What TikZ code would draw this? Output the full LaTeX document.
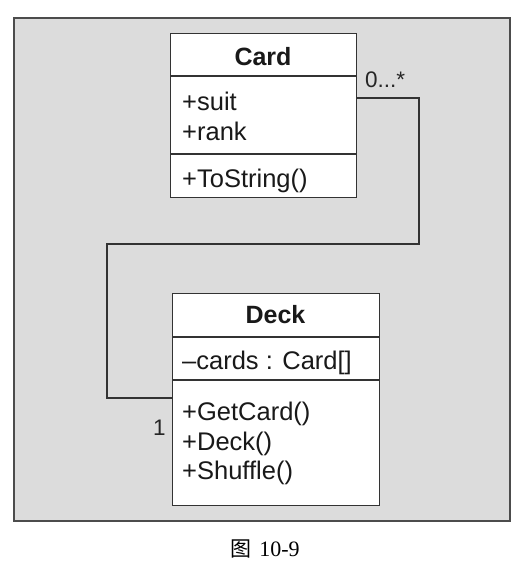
\documentclass[tikz,border=0pt]{standalone}
\usepackage{fontspec}
\setmainfont{Liberation Sans}
\newfontfamily\cjk{Noto Sans CJK SC}
\newfontfamily\capserif{Liberation Serif}
\definecolor{bggray}{HTML}{DCDCDC}
\definecolor{edge}{HTML}{333333}
\begin{document}
\begin{tikzpicture}[x=1pt,y=-1pt,
  umlbox/.style={draw=edge, line width=1.2pt, fill=white, inner sep=0, anchor=north west},
  divider/.style={draw=edge, line width=1.2pt},
  txt/.style={anchor=base west, inner sep=0, font=\fontsize{25.5}{29}\selectfont, text=black!90},
  head/.style={anchor=base, inner sep=0, font=\fontsize{25}{29}\selectfont\bfseries, text=black!90},
  link/.style={draw=edge, line width=1.3pt},
  mult/.style={anchor=base west, inner sep=0, font=\fontsize{22.5}{25}\selectfont, text=black!85}]
\useasboundingbox (0,0) rectangle (530,568);
\draw[fill=bggray, draw=black!70, line width=1.5pt] (14,18) rectangle (510,521);
% Card box
\node[umlbox, minimum width=186pt, minimum height=164pt] (card) at (170,33) {};
\draw[divider] (170,76) -- (356,76);
\draw[divider] (170,154) -- (356,154);
\node[head] (cardname) at (263,65) {Card};
\node[txt] (suit) at (182,110) {+suit};
\node[txt] (rank) at (182,140) {+rank};
\node[txt] (tostr) at (182,187) {+ToString()};
% Deck box
\node[umlbox, minimum width=207pt, minimum height=212pt] (deck) at (172,293) {};
\draw[divider] (172,337) -- (379,337);
\draw[divider] (172,380) -- (379,380);
\node[head] (deckname) at (275.5,323) {Deck};
\node[txt] (cards) at (182,369) {--cards : Card[]};
\node[txt] (getcard) at (182,420) {+GetCard()};
\node[txt] (deckctor) at (182,450) {+Deck()};
\node[txt] (shuffle) at (182,479) {+Shuffle()};
% connector
\coordinate (yc) at (0,98);
\coordinate (yd) at (0,398);
\draw[link] (card.east |- yc) -- (419,98) -- (419,244) -- (107,244) -- (107,398) -- (deck.west |- yd);
\node[mult] (m1) at (365,87) {0...*};
\node[mult] (m2) at (153,435) {1};
% caption
\node[anchor=base, inner sep=0] (cap) at (265,556) {{\cjk\fontsize{21}{24}\selectfont 图}\hspace{8pt}{\capserif\fontsize{22}{24}\selectfont 10-9}};
\end{tikzpicture}
\end{document}
